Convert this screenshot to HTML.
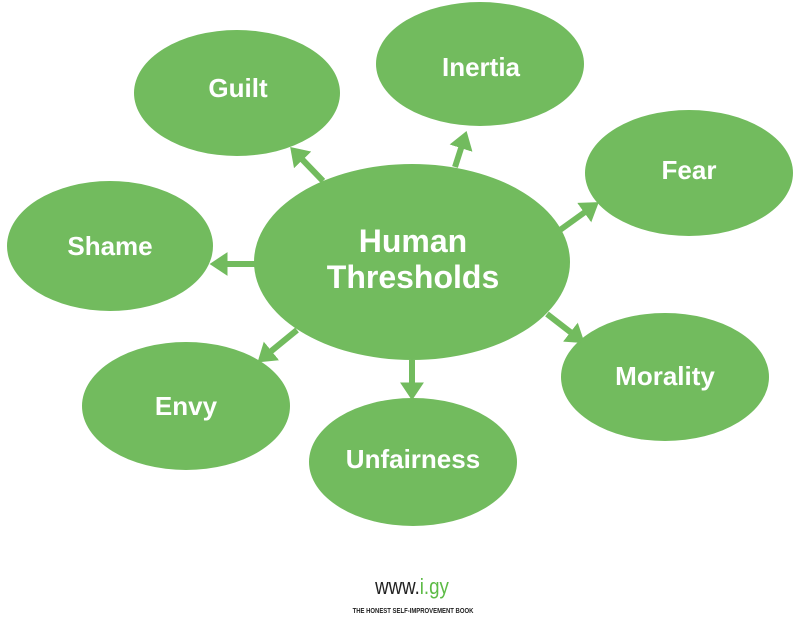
<!DOCTYPE html>
<html><head><meta charset="utf-8"><style>
html,body{margin:0;padding:0;background:#fff}
svg{display:block}
text{font-family:"Liberation Sans",sans-serif;font-weight:bold;fill:#fff;text-anchor:middle}
</style></head><body>
<svg width="800" height="632" viewBox="0 0 800 632" xmlns="http://www.w3.org/2000/svg">
<defs>
<marker id="a" markerWidth="3" markerHeight="4" refX="1.6" refY="2" orient="auto" markerUnits="strokeWidth">
<path d="M0,0 L3,2 L0,4 Z" fill="#72bb5e"/>
</marker>
</defs>
<g fill="#72bb5e">
<ellipse cx="237" cy="93" rx="103" ry="63"/>
<ellipse cx="480" cy="64" rx="104" ry="62"/>
<ellipse cx="689" cy="173" rx="104" ry="63"/>
<ellipse cx="110" cy="246" rx="103" ry="65"/>
<ellipse cx="186" cy="406" rx="104" ry="64"/>
<ellipse cx="413" cy="462" rx="104" ry="64"/>
<ellipse cx="665" cy="377" rx="104" ry="64"/>
<ellipse cx="412" cy="262" rx="158" ry="98"/>
</g>
<g stroke="#72bb5e" stroke-width="6" marker-end="url(#a)">
<line x1="323" y1="181" x2="296" y2="153"/>
<line x1="455" y1="167" x2="464" y2="139"/>
<line x1="560" y1="230" x2="592" y2="207"/>
<line x1="256" y1="264" x2="218" y2="264"/>
<line x1="297" y1="330" x2="264" y2="357"/>
<line x1="412" y1="360" x2="412" y2="392"/>
<line x1="547" y1="314" x2="578" y2="338"/>
</g>
<text x="238" y="97" font-size="26">Guilt</text>
<text x="481" y="76" font-size="26">Inertia</text>
<text x="689" y="179" font-size="26">Fear</text>
<text x="110" y="255" font-size="26">Shame</text>
<text x="186" y="415" font-size="26">Envy</text>
<text x="413" y="468" font-size="26">Unfairness</text>
<text x="665" y="385" font-size="26">Morality</text>
<text x="413" y="252" font-size="32">Human</text>
<text x="413" y="288" font-size="32">Thresholds</text>
<text x="412" y="594" font-size="22" style="font-weight:normal;fill:#222" transform="translate(412,0) scale(0.85,1) translate(-412,0)">www.<tspan style="fill:#5dbb46">i.gy</tspan></text>
<text x="413" y="613" font-size="7" style="fill:#222" transform="translate(413,0) scale(0.85,1) translate(-413,0)">THE HONEST SELF-IMPROVEMENT BOOK</text>
</svg>
</body></html>
